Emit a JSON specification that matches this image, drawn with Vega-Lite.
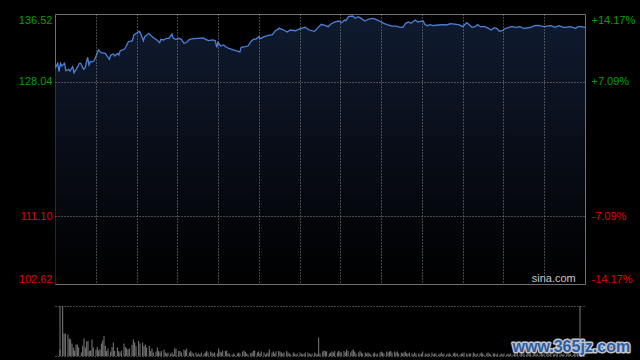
{
  "$schema": "https://vega.github.io/schema/vega-lite/v6.json",
  "background": "#000000",
  "padding": {"left": 5, "top": 13, "right": 5, "bottom": 5},
  "datasets": {
    "price": [
      {"m":0,"p":129.70},{"m":2,"p":130.33},{"m":3,"p":129.28},{"m":4,"p":130.33},{"m":5,"p":129.99},{"m":7,"p":130.33},{"m":8,"p":129.40},{"m":10,"p":129.58},{"m":11,"p":129.36},{"m":13,"p":129.90},{"m":14,"p":129.15},{"m":16,"p":129.70},{"m":18,"p":130.33},{"m":19,"p":130.33},{"m":21,"p":129.58},{"m":22,"p":129.70},{"m":24,"p":131.08},{"m":25,"p":130.12},{"m":26,"p":130.53},{"m":28,"p":130.53},{"m":29,"p":130.74},{"m":30,"p":131.16},{"m":32,"p":132.00},{"m":34,"p":131.66},{"m":37,"p":131.58},{"m":40,"p":130.83},{"m":41,"p":131.37},{"m":43,"p":131.50},{"m":44,"p":131.25},{"m":46,"p":131.58},{"m":47,"p":131.37},{"m":48,"p":131.91},{"m":51,"p":132.09},{"m":52,"p":132.34},{"m":54,"p":133.04},{"m":57,"p":133.17},{"m":58,"p":133.88},{"m":60,"p":134.10},{"m":62,"p":134.35},{"m":63,"p":134.10},{"m":65,"p":133.17},{"m":66,"p":133.67},{"m":69,"p":134.10},{"m":71,"p":133.76},{"m":73,"p":133.47},{"m":75,"p":133.26},{"m":77,"p":132.92},{"m":78,"p":133.34},{"m":80,"p":133.26},{"m":82,"p":133.47},{"m":84,"p":133.47},{"m":86,"p":134.00},{"m":87,"p":133.47},{"m":89,"p":133.34},{"m":91,"p":133.47},{"m":93,"p":133.34},{"m":95,"p":132.84},{"m":97,"p":132.97},{"m":99,"p":133.34},{"m":102,"p":133.42},{"m":105,"p":133.47},{"m":109,"p":133.51},{"m":111,"p":133.34},{"m":113,"p":133.17},{"m":116,"p":133.26},{"m":118,"p":133.17},{"m":119,"p":132.34},{"m":120,"p":132.97},{"m":122,"p":132.50},{"m":124,"p":132.63},{"m":126,"p":132.34},{"m":128,"p":132.21},{"m":130,"p":132.09},{"m":133,"p":131.91},{"m":136,"p":131.75},{"m":137,"p":132.34},{"m":140,"p":132.42},{"m":142,"p":132.50},{"m":144,"p":133.04},{"m":146,"p":133.34},{"m":148,"p":133.38},{"m":150,"p":133.67},{"m":151,"p":133.42},{"m":154,"p":133.67},{"m":157,"p":133.84},{"m":160,"p":133.92},{"m":162,"p":134.39},{"m":165,"p":134.72},{"m":167,"p":134.60},{"m":171,"p":134.26},{"m":173,"p":134.51},{"m":177,"p":134.42},{"m":180,"p":134.64},{"m":182,"p":134.76},{"m":184,"p":134.85},{"m":187,"p":134.51},{"m":191,"p":134.35},{"m":193,"p":134.72},{"m":196,"p":135.23},{"m":199,"p":135.05},{"m":201,"p":134.93},{"m":203,"p":135.26},{"m":206,"p":135.52},{"m":209,"p":135.64},{"m":211,"p":135.43},{"m":213,"p":135.77},{"m":214,"p":135.68},{"m":216,"p":136.18},{"m":219,"p":136.27},{"m":221,"p":135.98},{"m":223,"p":136.18},{"m":225,"p":136.00},{"m":228,"p":135.64},{"m":231,"p":135.89},{"m":234,"p":135.98},{"m":236,"p":135.85},{"m":240,"p":135.55},{"m":242,"p":135.35},{"m":245,"p":135.14},{"m":248,"p":135.01},{"m":251,"p":135.01},{"m":254,"p":134.85},{"m":256,"p":134.85},{"m":258,"p":135.35},{"m":260,"p":135.52},{"m":262,"p":135.35},{"m":265,"p":135.77},{"m":267,"p":135.52},{"m":269,"p":135.60},{"m":271,"p":135.64},{"m":272,"p":135.26},{"m":274,"p":135.05},{"m":276,"p":135.18},{"m":278,"p":135.05},{"m":282,"p":135.14},{"m":286,"p":135.18},{"m":288,"p":135.14},{"m":291,"p":135.30},{"m":294,"p":135.26},{"m":297,"p":135.18},{"m":300,"p":134.93},{"m":303,"p":135.43},{"m":305,"p":135.14},{"m":307,"p":134.85},{"m":309,"p":134.93},{"m":311,"p":135.18},{"m":313,"p":134.93},{"m":316,"p":134.93},{"m":318,"p":134.80},{"m":321,"p":134.51},{"m":323,"p":134.80},{"m":325,"p":134.72},{"m":327,"p":134.35},{"m":329,"p":134.42},{"m":331,"p":134.67},{"m":334,"p":134.85},{"m":336,"p":134.93},{"m":340,"p":134.85},{"m":342,"p":134.93},{"m":345,"p":134.72},{"m":347,"p":134.76},{"m":350,"p":134.85},{"m":353,"p":135.05},{"m":356,"p":135.10},{"m":358,"p":135.01},{"m":360,"p":134.93},{"m":362,"p":135.01},{"m":365,"p":135.05},{"m":368,"p":134.85},{"m":371,"p":135.05},{"m":374,"p":134.85},{"m":376,"p":134.85},{"m":379,"p":134.93},{"m":381,"p":134.85},{"m":383,"p":134.72},{"m":385,"p":134.93},{"m":387,"p":134.93},{"m":390,"p":134.85}
    ],
    "vol": [
      {"m":0,"v":13},{"m":2,"v":100},{"m":3,"v":45},{"m":4,"v":45},{"m":6,"v":43},{"m":7,"v":35},{"m":8,"v":33},{"m":9,"v":25},{"m":10,"v":17},{"m":11,"v":11},{"m":12,"v":23},{"m":13,"v":23},{"m":14,"v":17},{"m":16,"v":7},{"m":17,"v":20},{"m":18,"v":35},{"m":19,"v":17},{"m":20,"v":29},{"m":21,"v":30},{"m":22,"v":10},{"m":23,"v":11},{"m":24,"v":33},{"m":25,"v":17},{"m":27,"v":13},{"m":28,"v":18},{"m":29,"v":11},{"m":30,"v":13},{"m":31,"v":25},{"m":32,"v":31},{"m":33,"v":40},{"m":34,"v":20},{"m":35,"v":10},{"m":36,"v":15},{"m":38,"v":9},{"m":39,"v":18},{"m":40,"v":27},{"m":41,"v":10},{"m":43,"v":17},{"m":44,"v":10},{"m":45,"v":7},{"m":46,"v":11},{"m":48,"v":25},{"m":49,"v":18},{"m":50,"v":15},{"m":51,"v":13},{"m":52,"v":15},{"m":54,"v":22},{"m":55,"v":33},{"m":56,"v":27},{"m":57,"v":20},{"m":59,"v":30},{"m":60,"v":25},{"m":62,"v":27},{"m":63,"v":20},{"m":64,"v":23},{"m":65,"v":17},{"m":67,"v":20},{"m":68,"v":10},{"m":69,"v":15},{"m":70,"v":7},{"m":72,"v":9},{"m":73,"v":17},{"m":74,"v":10},{"m":75,"v":7},{"m":76,"v":10},{"m":78,"v":13},{"m":79,"v":7},{"m":80,"v":5},{"m":81,"v":7},{"m":83,"v":5},{"m":84,"v":7},{"m":85,"v":3},{"m":86,"v":15},{"m":87,"v":15},{"m":89,"v":10},{"m":90,"v":10},{"m":91,"v":7},{"m":93,"v":13},{"m":94,"v":11},{"m":95,"v":15},{"m":97,"v":7},{"m":98,"v":10},{"m":99,"v":7},{"m":100,"v":5},{"m":102,"v":7},{"m":103,"v":3},{"m":104,"v":5},{"m":105,"v":3},{"m":106,"v":7},{"m":108,"v":5},{"m":109,"v":7},{"m":110,"v":10},{"m":111,"v":7},{"m":113,"v":9},{"m":114,"v":7},{"m":115,"v":5},{"m":116,"v":7},{"m":118,"v":5},{"m":119,"v":15},{"m":120,"v":9},{"m":121,"v":7},{"m":122,"v":11},{"m":124,"v":10},{"m":125,"v":11},{"m":126,"v":5},{"m":127,"v":5},{"m":129,"v":3},{"m":130,"v":5},{"m":131,"v":3},
      {"m":133,"v":5},{"m":134,"v":7},{"m":135,"v":5},{"m":137,"v":9},{"m":138,"v":11},{"m":139,"v":8},{"m":140,"v":5},{"m":141,"v":3},{"m":143,"v":6},{"m":144,"v":7},{"m":145,"v":10},{"m":146,"v":11},{"m":148,"v":7},{"m":149,"v":9},{"m":150,"v":5},{"m":151,"v":9},{"m":153,"v":7},{"m":154,"v":3},{"m":155,"v":5},{"m":156,"v":7},{"m":157,"v":13},{"m":159,"v":7},{"m":160,"v":9},{"m":161,"v":5},{"m":162,"v":9},{"m":164,"v":10},{"m":165,"v":9},{"m":166,"v":7},{"m":167,"v":5},{"m":168,"v":7},{"m":170,"v":10},{"m":171,"v":7},{"m":172,"v":5},{"m":173,"v":3},{"m":175,"v":7},{"m":176,"v":5},{"m":177,"v":3},{"m":178,"v":5},{"m":180,"v":7},{"m":181,"v":5},{"m":182,"v":3},{"m":183,"v":5},{"m":184,"v":7},{"m":186,"v":7},{"m":187,"v":5},{"m":188,"v":3},{"m":189,"v":5},{"m":191,"v":7},{"m":192,"v":5},{"m":193,"v":3},{"m":194,"v":37},{"m":195,"v":5},{"m":197,"v":9},{"m":198,"v":11},{"m":199,"v":10},{"m":200,"v":9},{"m":202,"v":5},{"m":203,"v":7},{"m":204,"v":9},{"m":205,"v":7},{"m":206,"v":10},{"m":208,"v":7},{"m":209,"v":10},{"m":210,"v":9},{"m":211,"v":7},{"m":213,"v":10},{"m":214,"v":7},{"m":215,"v":13},{"m":216,"v":10},{"m":218,"v":7},{"m":219,"v":11},{"m":220,"v":13},{"m":221,"v":9},{"m":222,"v":5},{"m":224,"v":7},{"m":225,"v":10},{"m":226,"v":7},{"m":227,"v":5},{"m":229,"v":7},{"m":230,"v":5},{"m":231,"v":7},{"m":232,"v":5},{"m":233,"v":3},{"m":235,"v":5},{"m":236,"v":7},{"m":237,"v":3},{"m":238,"v":5},{"m":240,"v":7},{"m":241,"v":9},{"m":242,"v":7},{"m":243,"v":5},{"m":245,"v":9},{"m":246,"v":7},{"m":247,"v":9},{"m":248,"v":10},{"m":249,"v":7},{"m":251,"v":9},{"m":252,"v":7},{"m":253,"v":9},{"m":254,"v":5},{"m":256,"v":7},{"m":257,"v":5},{"m":258,"v":7},{"m":259,"v":9},{"m":260,"v":5},
      {"m":261,"v":5},{"m":262,"v":7},{"m":264,"v":5},{"m":265,"v":3},{"m":266,"v":7},{"m":267,"v":5},{"m":269,"v":5},{"m":270,"v":3},{"m":271,"v":5},{"m":272,"v":9},{"m":274,"v":5},{"m":275,"v":3},{"m":276,"v":5},{"m":277,"v":5},{"m":279,"v":7},{"m":280,"v":3},{"m":281,"v":5},{"m":282,"v":5},{"m":284,"v":3},{"m":285,"v":5},{"m":286,"v":7},{"m":287,"v":3},{"m":288,"v":5},{"m":290,"v":3},{"m":291,"v":5},{"m":292,"v":5},{"m":293,"v":3},{"m":295,"v":5},{"m":296,"v":7},{"m":297,"v":5},{"m":298,"v":5},{"m":300,"v":3},{"m":301,"v":5},{"m":302,"v":5},{"m":303,"v":7},{"m":305,"v":5},{"m":306,"v":3},{"m":307,"v":5},{"m":308,"v":5},{"m":310,"v":7},{"m":311,"v":5},{"m":312,"v":3},{"m":313,"v":5},{"m":315,"v":5},{"m":316,"v":7},{"m":317,"v":5},{"m":318,"v":3},{"m":320,"v":5},{"m":321,"v":7},{"m":322,"v":5},{"m":323,"v":3},{"m":325,"v":5},{"m":326,"v":5},{"m":327,"v":3},{"m":328,"v":5},{"m":330,"v":3},{"m":331,"v":5},{"m":332,"v":3},{"m":333,"v":5},{"m":335,"v":3},{"m":336,"v":5},{"m":337,"v":3},{"m":338,"v":5},{"m":340,"v":3},{"m":341,"v":5},{"m":342,"v":3},{"m":343,"v":5},{"m":345,"v":3},{"m":346,"v":5},{"m":347,"v":3},{"m":348,"v":5},{"m":350,"v":3},{"m":351,"v":5},{"m":352,"v":3},{"m":353,"v":5},{"m":355,"v":3},{"m":356,"v":5},{"m":357,"v":3},{"m":358,"v":5},{"m":360,"v":3},{"m":361,"v":5},{"m":362,"v":3},{"m":363,"v":5},{"m":365,"v":3},{"m":366,"v":5},{"m":367,"v":3},{"m":368,"v":5},{"m":370,"v":3},{"m":371,"v":5},{"m":372,"v":3},{"m":373,"v":5},{"m":375,"v":3},{"m":376,"v":5},{"m":377,"v":3},{"m":378,"v":5},{"m":380,"v":3},{"m":381,"v":5},{"m":382,"v":3},{"m":383,"v":5},{"m":385,"v":3},{"m":386,"v":5},{"m":387,"v":3},{"m":388,"v":5},{"m":390,"v":3}
    ],
    "edges": [{"m":0},{"m":390}],
    "marks": [{"label":"sina.com","m":367,"p":103.2}],
    "wm": [{"label":"www.365jz.com","m":383.5,"v":18}]
  },
  "vconcat": [
    {
      "width": 530,
      "height": 270,
      "layer": [
        {
          "layer": [
            {
              "data": {"name": "price"},
              "mark": {
                "type": "area",
                "clip": true,
                "fill": {"x1":0,"y1":0,"x2":0,"y2":1,"gradient":"linear","stops":[{"offset":0,"color":"#172644"},{"offset":1,"color":"#000000"}]},
                "line": {"color": "#4b82d8", "strokeWidth": 1.3}
              },
              "encoding": {
                "x": {"field": "m", "type": "quantitative", "scale": {"domain": [0, 390], "nice": false, "zero": false},
                  "axis": {"values": [30,60,90,120,150,180,210,240,270,300,330,360], "grid": true, "gridDash": [1,2], "gridColor": "#8a8a8a", "labels": false, "ticks": false, "domain": false, "title": null, "minExtent": 0, "maxExtent": 0, "zindex": 1}},
                "y": {"field": "p", "type": "quantitative", "scale": {"domain": [102.62, 136.52], "nice": false, "zero": false},
                  "axis": {"values": [102.62, 111.10, 128.04, 136.52], "format": ".2f", "title": null, "ticks": false, "domain": false, "labelPadding": 3, "labelFlush": true, "minExtent": 49, "maxExtent": 49,
                    "labelFont": "Liberation Sans", "labelFontSize": 11,
                    "labelColor": {"condition": {"test": "datum.value > 119.57", "value": "#0a9e0a"}, "value": "#e60000"},
                    "grid": true, "gridDash": [1,2], "gridColor": "#8a8a8a",
                    "gridOpacity": {"condition": {"test": "datum.value > 105 && datum.value < 135", "value": 1}, "value": 0},
                    "zindex": 1}},
                "y2": {"datum": 102.62}
              }
            },
            {
              "data": {"name": "marks"},
              "mark": {"type": "text", "font": "Liberation Sans", "fontSize": 11, "color": "#c8c8c8", "align": "center", "baseline": "middle"},
              "encoding": {
                "x": {"field": "m", "type": "quantitative"},
                "y": {"field": "p", "type": "quantitative"},
                "text": {"field": "label"}
              }
            }
          ]
        },
        {
          "mark": {"type": "rule", "color": "#9a9a9a", "strokeDash": [5,2,1,2], "strokeWidth": 1},
          "encoding": {
            "y": {"datum": 0, "type": "quantitative", "scale": {"domain": [-14.17, 14.17], "nice": false, "zero": false},
              "axis": {"orient": "right", "values": [-14.17, -7.09, 7.09, 14.17], "title": null, "ticks": false, "domain": false, "grid": false, "labelPadding": 6, "labelFlush": true,
                "labelFont": "Liberation Sans", "labelFontSize": 11,
                "labelExpr": "(datum.value > 0 ? '+' : '-') + format(abs(datum.value), '.2f') + '%'",
                "labelColor": {"condition": {"test": "datum.value > 0", "value": "#0a9e0a"}, "value": "#e60000"}}}
          }
        }
      ],
      "resolve": {"scale": {"y": "independent"}, "axis": {"y": "independent"}}
    },
    {
      "width": 530,
      "height": 50,
      "view": {"stroke": null},
      "layer": [
        {
          "data": {"name": "vol"},
          "mark": {"type": "bar", "width": 1, "color": "#7d7d7d", "clip": true},
          "encoding": {
            "x": {"field": "m", "type": "quantitative", "scale": {"domain": [0, 390], "nice": false, "zero": false}, "axis": null},
            "y": {"field": "v", "type": "quantitative", "scale": {"domain": [0, 100], "nice": false},
              "axis": {"values": [0, 50, 100], "labels": false, "ticks": false, "domain": false, "title": null, "grid": true, "gridDash": [1,2], "gridColor": "#8a8a8a", "minExtent": 49, "maxExtent": 49}}
          }
        },
        {
          "data": {"name": "edges"},
          "mark": {"type": "rule", "color": "#7a7a7a", "strokeWidth": 1},
          "encoding": {"x": {"field": "m", "type": "quantitative"}}
        },
        {
          "data": {"name": "wm"},
          "mark": {"type": "text", "font": "Liberation Sans", "fontSize": 16, "fontWeight": "bold", "align": "center", "baseline": "middle", "fill": "#2d5ca6", "stroke": "#c0c4cc", "strokeWidth": 3, "strokeJoin": "round"},
          "encoding": {"x": {"field": "m", "type": "quantitative"}, "y": {"field": "v", "type": "quantitative"}, "text": {"field": "label"}}
        },
        {
          "data": {"name": "wm"},
          "mark": {"type": "text", "font": "Liberation Sans", "fontSize": 16, "fontWeight": "bold", "align": "center", "baseline": "middle", "fill": "#2d5ca6"},
          "encoding": {"x": {"field": "m", "type": "quantitative"}, "y": {"field": "v", "type": "quantitative"}, "text": {"field": "label"}}
        }
      ]
    }
  ],
  "spacing": 20,
  "resolve": {"scale": {"y": "independent"}},
  "config": {
    "background": "#000000",
    "view": {"stroke": "#707070", "strokeWidth": 1}
  }
}
